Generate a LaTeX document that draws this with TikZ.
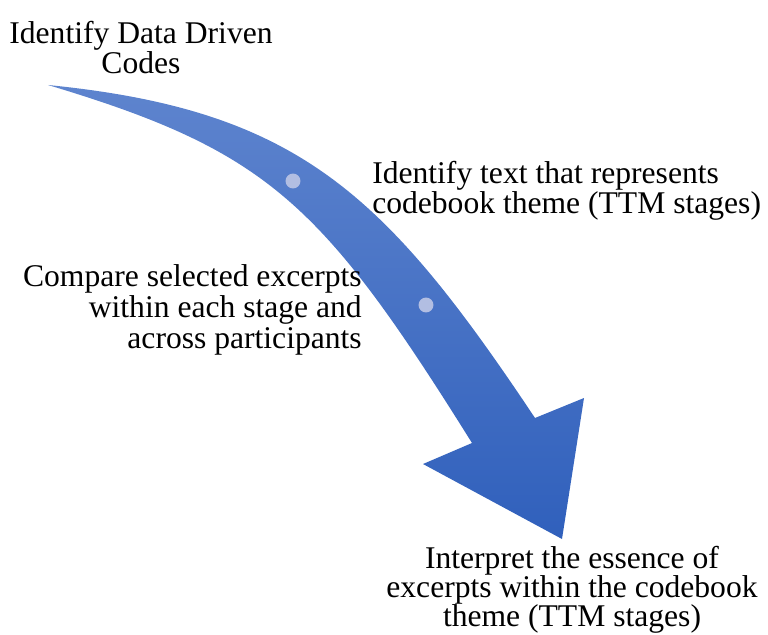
\documentclass[tikz,border=0pt]{standalone}
\usepackage{fontspec}
\setmainfont{Liberation Serif}
\usetikzlibrary{positioning}
\definecolor{arrowtop}{RGB}{94,132,206}
\definecolor{arrowbottom}{RGB}{48,96,188}
\definecolor{beadfill}{RGB}{178,190,226}

\begin{document}
\begin{tikzpicture}[x=0.75pt, y=-0.75pt,
    stage label/.style={font=\fontsize{23.7}{23.2}\selectfont, inner sep=0pt, text=black},
    bead/.style={fill=beadfill, draw=none}
]
    \useasboundingbox (0,0) rectangle (768,635);

    % Curved arrow
    \path[top color=arrowtop, bottom color=arrowbottom]
        (48,85) .. controls (298,110) and (385,193) .. (535,418)
        -- (584,398) -- (562,539) -- (423,464) -- (472,443)
        .. controls (322,203) and (268,151) .. (48,85)
        -- cycle;

    % Beads on the shaft
    \fill[bead] (293,181) circle[radius=5.6pt];
    \fill[bead] (426,305) circle[radius=5.6pt];

    % Stage labels
    \node[stage label, align=center, anchor=north] (codes) at (141,20.5) {Identify Data Driven\\Codes};
    \node[stage label, align=left, anchor=north west] (theme) at (372,160.5) {Identify text that represents\\codebook theme (TTM stages)};
    \node[stage label, align=right, anchor=north east] (compare) at (362,264.5) {Compare selected excerpts\\within each stage and\\across participants};
    \node[stage label, font=\fontsize{23.7}{21.8}\selectfont, align=center, anchor=north] (essence) at (572,546) {Interpret the essence of\\excerpts within the codebook\\theme (TTM stages)};
\end{tikzpicture}
\end{document}
